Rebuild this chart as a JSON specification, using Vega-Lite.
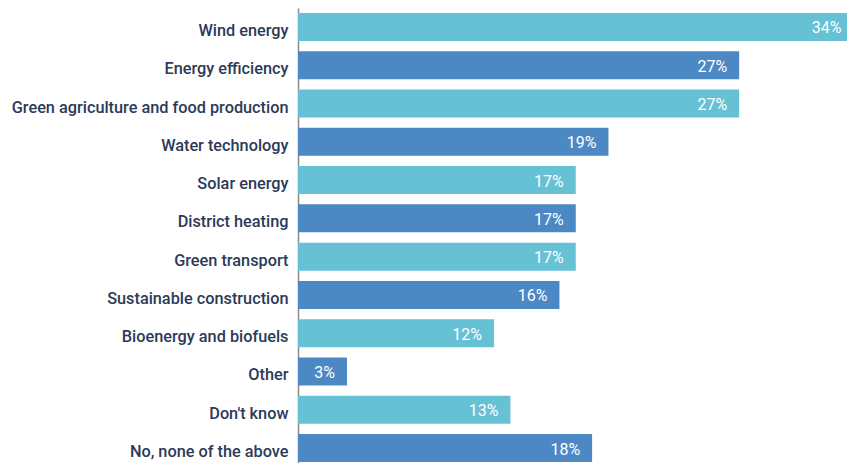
{
  "$schema": "https://vega.github.io/schema/vega-lite/v6.json",
  "autosize": {"type": "none"},
  "padding": {"left": 298, "top": 8, "right": 0, "bottom": 0},
  "width": 549,
  "height": 459,
  "background": "white",
  "config": {"view": {"stroke": null}, "font": "Roboto"},
  "data": {"values": [
    {"category": "Wind energy", "share": 0.34},
    {"category": "Energy efficiency", "share": 0.27},
    {"category": "Green agriculture and food production", "share": 0.27},
    {"category": "Water technology", "share": 0.19},
    {"category": "Solar energy", "share": 0.17},
    {"category": "District heating", "share": 0.17},
    {"category": "Green transport", "share": 0.17},
    {"category": "Sustainable construction", "share": 0.16},
    {"category": "Bioenergy and biofuels", "share": 0.12},
    {"category": "Other", "share": 0.03},
    {"category": "Don't know", "share": 0.13},
    {"category": "No, none of the above", "share": 0.18}
  ]},
  "transform": [{"window": [{"op": "row_number", "as": "idx"}]}],
  "encoding": {
    "y": {
      "field": "category", "type": "nominal", "sort": null,
      "scale": {"paddingInner": 0.268, "paddingOuter": 0.13},
      "axis": {
        "title": null, "ticks": false, "domain": true, "domainColor": "#8a8a8a", "domainWidth": 1.5,
        "labelPadding": 10, "labelFontSize": 16.3, "labelFontWeight": 500, "labelColor": "#2b3a58",
        "labelLimit": 400, "labelOffset": 4
      }
    },
    "x": {
      "field": "share", "type": "quantitative",
      "scale": {"domain": [0, 0.336], "nice": false},
      "axis": null
    }
  },
  "layer": [
    {
      "mark": {"type": "bar", "clip": true},
      "encoding": {
        "color": {"condition": {"test": "datum.idx % 2 === 1", "value": "#67c1d4"}, "value": "#4c89c4"}
      }
    },
    {
      "mark": {"type": "text", "align": "right", "dx": -12, "dy": 1.5, "color": "white", "fontSize": 16, "fontWeight": 400, "baseline": "middle"},
      "encoding": {"text": {"field": "share", "type": "quantitative", "format": ".0%"}}
    }
  ]
}
